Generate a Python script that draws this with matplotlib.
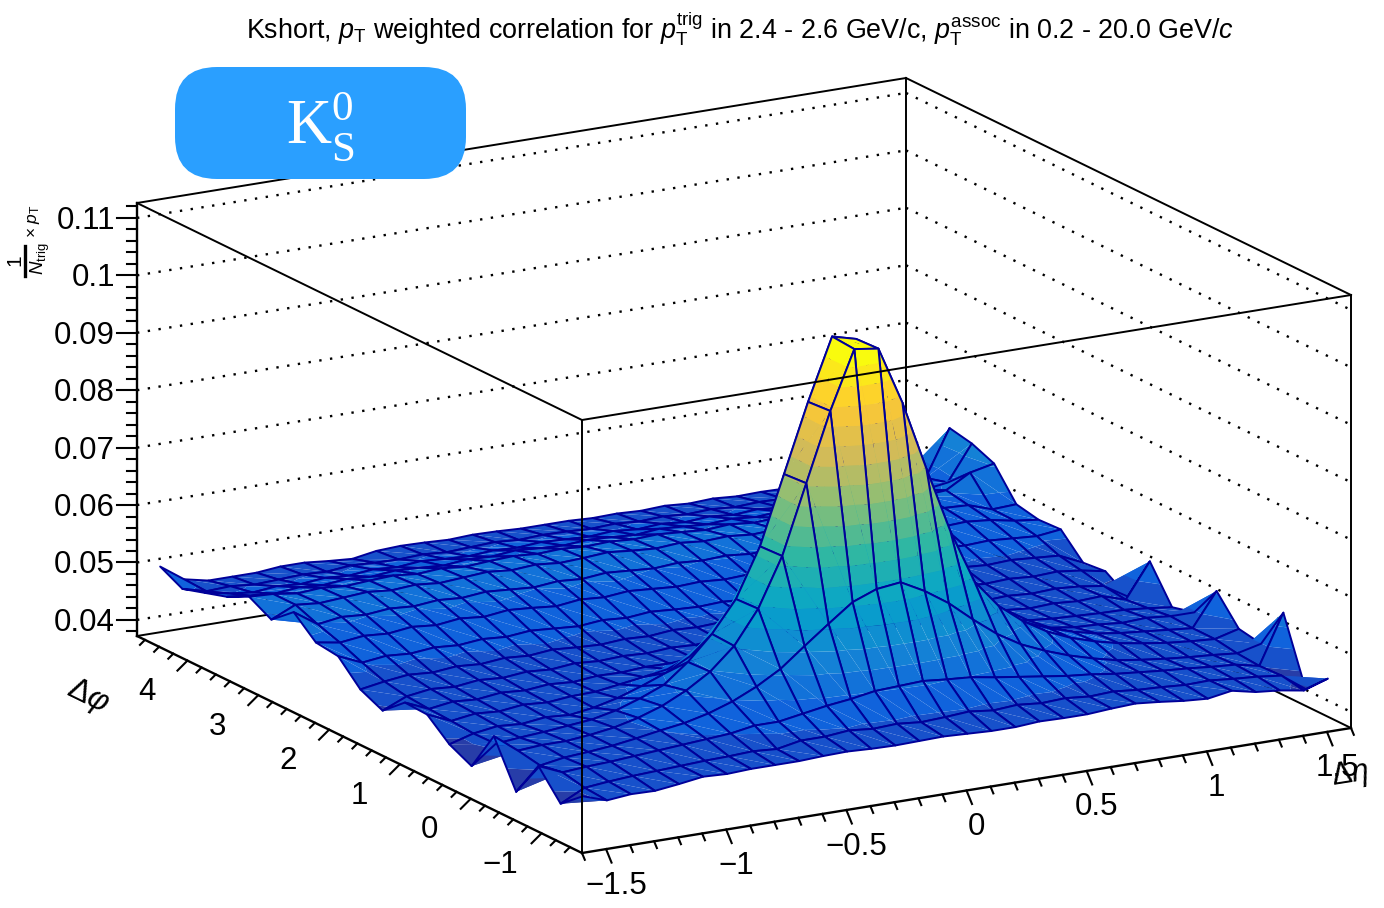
import numpy as np
import matplotlib
matplotlib.use('Agg')
import matplotlib.pyplot as plt
from matplotlib.collections import PolyCollection
from matplotlib.colors import LinearSegmentedColormap
from matplotlib.patches import FancyBboxPatch

plt.rcParams['font.family'] = ['Liberation Sans', 'DejaVu Sans']
plt.rcParams['mathtext.fontset'] = 'custom'
plt.rcParams['mathtext.rm'] = 'Liberation Sans'
plt.rcParams['mathtext.it'] = 'Liberation Sans:italic'
plt.rcParams['mathtext.bf'] = 'Liberation Sans:bold'

# axis ranges of the histogram
eta_range = [-1.6, 1.6]
phi_range = [-np.pi / 2, 3 * np.pi / 2]
z_range = [0.0372, 0.1126]
n_eta = 32
n_phi = 20

z_ticks = [0.04, 0.05, 0.06, 0.07, 0.08, 0.09, 0.1, 0.11]
z_labels = ['0.04', '0.05', '0.06', '0.07', '0.08', '0.09', '0.1', '0.11']
eta_ticks = [-1.5, -1, -0.5, 0, 0.5, 1, 1.5]
eta_labels = ['\u22121.5', '\u22121', '\u22120.5', '0', '0.5', '1', '1.5']
phi_ticks = [-1, 0, 1, 2, 3, 4]
phi_labels = ['\u22121', '0', '1', '2', '3', '4']

# bin contents x 1e4, one row per dphi bin (lowest dphi first), 32 deta bins in a row
z_rows = [
    [458, 444, 448, 447, 452, 458, 456, 458, 458, 458, 460, 461, 459, 458, 459, 460,
     458, 456, 456, 459, 458, 458, 461, 463, 459, 454, 451, 458, 449, 445, 438, 452],
    [426, 447, 451, 454, 456, 458, 460, 461, 463, 460, 468, 468, 472, 468, 470, 466,
     468, 471, 466, 469, 465, 467, 463, 465, 461, 459, 456, 457, 453, 450, 445, 415],
    [473, 455, 458, 460, 463, 466, 469, 472, 475, 482, 482, 489, 496, 501, 508, 510,
     512, 508, 505, 498, 492, 486, 480, 476, 470, 466, 462, 459, 455, 452, 443, 529],
    [409, 448, 455, 458, 462, 468, 475, 481, 491, 505, 524, 548, 581, 613, 644, 660,
     665, 643, 615, 580, 548, 523, 505, 490, 478, 468, 462, 457, 453, 450, 446, 456],
    [487, 455, 458, 458, 462, 468, 478, 492, 512, 538, 576, 634, 719, 839, 958, 1059,
     1053, 952, 830, 714, 620, 571, 538, 513, 495, 482, 472, 465, 459, 455, 452, 463],
    [416, 448, 452, 455, 459, 463, 472, 486, 503, 536, 578, 632, 717, 836, 955, 1062,
     1051, 948, 829, 712, 626, 574, 535, 510, 493, 480, 470, 464, 460, 456, 452, 510],
    [435, 447, 453, 450, 455, 452, 458, 468, 482, 498, 520, 545, 578, 610, 640, 658,
     662, 640, 612, 580, 548, 522, 503, 488, 477, 468, 462, 460, 456, 458, 454, 454],
    [468, 450, 456, 453, 458, 455, 459, 460, 466, 472, 479, 486, 492, 497, 505, 510,
     512, 506, 500, 496, 489, 483, 478, 473, 468, 462, 458, 456, 454, 453, 449, 444],
    [470, 452, 458, 455, 460, 457, 461, 458, 462, 461, 464, 463, 466, 464, 467, 468,
     469, 466, 465, 467, 463, 465, 461, 463, 459, 461, 457, 459, 456, 458, 445, 505],
    [437, 455, 461, 458, 463, 460, 464, 461, 465, 462, 464, 462, 465, 463, 466, 464,
     465, 463, 466, 462, 464, 461, 463, 459, 462, 458, 460, 457, 459, 456, 450, 425],
    [455, 462, 467, 464, 468, 465, 469, 466, 470, 467, 465, 468, 466, 470, 468, 470,
     472, 468, 470, 467, 465, 468, 464, 466, 463, 465, 462, 464, 461, 463, 458, 450],
    [494, 476, 481, 478, 482, 479, 483, 480, 484, 481, 478, 482, 479, 483, 480, 478,
     480, 477, 479, 475, 477, 473, 475, 471, 473, 470, 472, 469, 471, 468, 465, 446],
    [499, 492, 497, 494, 499, 495, 500, 496, 501, 498, 494, 499, 496, 500, 497, 494,
     496, 493, 495, 491, 493, 489, 491, 487, 489, 485, 487, 484, 486, 483, 480, 485],
    [533, 505, 511, 508, 512, 509, 513, 510, 514, 511, 508, 512, 509, 513, 510, 507,
     510, 507, 509, 505, 507, 503, 505, 501, 503, 499, 501, 498, 500, 496, 488, 483],
    [501, 520, 516, 519, 522, 518, 521, 517, 520, 523, 519, 522, 518, 520, 523, 519,
     516, 519, 515, 517, 513, 515, 511, 513, 509, 511, 507, 509, 505, 503, 489, 491],
    [522, 520, 514, 517, 513, 516, 518, 514, 517, 513, 516, 518, 515, 517, 514, 516,
     513, 515, 512, 509, 512, 508, 510, 507, 509, 505, 508, 504, 507, 510, 534, 543],
    [503, 498, 495, 499, 496, 500, 497, 501, 499, 496, 500, 498, 502, 499, 497, 500,
     498, 495, 499, 496, 493, 496, 492, 495, 491, 494, 490, 493, 496, 492, 498, 559],
    [491, 483, 478, 482, 479, 483, 480, 484, 481, 485, 482, 480, 483, 481, 484, 482,
     480, 483, 479, 482, 478, 481, 477, 480, 476, 479, 477, 481, 484, 484, 487, 567],
    [479, 468, 470, 466, 468, 470, 468, 472, 470, 469, 471, 468, 470, 472, 469, 471,
     470, 468, 470, 467, 469, 466, 468, 465, 467, 466, 468, 470, 470, 471, 472, 463],
    [499, 470, 461, 461, 461, 465, 465, 461, 458, 465, 467, 466, 464, 466, 465, 463,
     463, 463, 461, 462, 460, 462, 459, 461, 458, 459, 458, 460, 461, 462, 465, 460],
]

# ROOT kBird palette
bird_r = [0.2082, 0.0592, 0.0780, 0.0232, 0.1802, 0.5301, 0.8186, 0.9956, 0.9764]
bird_g = [0.1664, 0.3599, 0.5041, 0.6419, 0.7178, 0.7492, 0.7328, 0.7862, 0.9832]
bird_b = [0.5293, 0.8684, 0.8385, 0.7914, 0.6425, 0.4662, 0.3499, 0.1968, 0.0539]
bird = LinearSegmentedColormap.from_list('bird', list(zip(bird_r, bird_g, bird_b)))

z_grid = np.array(z_rows) * 1e-4
eta_edges = np.linspace(eta_range[0], eta_range[1], n_eta + 1)
phi_edges = np.linspace(phi_range[0], phi_range[1], n_phi + 1)
eta_nodes = 0.5 * (eta_edges[:-1] + eta_edges[1:])
phi_nodes = 0.5 * (phi_edges[:-1] + phi_edges[1:])

# box corners on the canvas, the view is a parallel projection
front = np.array([582.0, 853.0])
right = np.array([1351.0, 728.0])
left = np.array([137.0, 636.0])
box_height = 433.0


def project(eta, phi, z):
    fe = (eta - eta_range[0]) / (eta_range[1] - eta_range[0])
    fp = (phi - phi_range[0]) / (phi_range[1] - phi_range[0])
    fz = (z - z_range[0]) / (z_range[1] - z_range[0])
    x = front[0] + fe * (right[0] - front[0]) + fp * (left[0] - front[0])
    y = front[1] + fe * (right[1] - front[1]) + fp * (left[1] - front[1]) - fz * box_height
    return x, y


def clip_band(tri, lo, hi):
    # keep the part of a triangle (x, y, z) that lies between two z levels
    poly = list(tri)
    for level, sign in [(lo, 1), (hi, -1)]:
        out = []
        for i in range(len(poly)):
            a = poly[i]
            b = poly[(i + 1) % len(poly)]
            da = sign * (a[2] - level)
            db = sign * (b[2] - level)
            if da >= 0:
                out.append(a)
            if da * db < 0:
                t = da / (da - db)
                out.append(tuple(a[n] + t * (b[n] - a[n]) for n in range(3)))
        poly = out
        if not poly:
            return []
    return poly


fig = plt.figure(figsize=(13.84, 9.08), dpi=100)
ax = fig.add_axes([0, 0, 1, 1])
ax.set_xlim(0, 1384)
ax.set_ylim(908, 0)
ax.axis('off')

BLACK_LW = 1.4
DOTS = (0, (1.0, 3.6))
eta0, eta1 = eta_range
phi0, phi1 = phi_range
z0, z1 = z_range


def box_line(p, q, zorder, **kw):
    xa, ya = project(*p)
    xb, yb = project(*q)
    kw.setdefault('color', 'black')
    kw.setdefault('lw', BLACK_LW)
    ax.plot([xa, xb], [ya, yb], zorder=zorder, solid_capstyle='projecting', **kw)


# back walls and their dotted grid
for z in z_ticks:
    box_line((eta0, phi1, z), (eta1, phi1, z), 1, ls=DOTS, lw=1.7)
    box_line((eta1, phi1, z), (eta1, phi0, z), 1, ls=DOTS, lw=1.7)
box_line((eta0, phi1, z0), (eta1, phi1, z0), 1)
box_line((eta1, phi1, z0), (eta1, phi0, z0), 1)
box_line((eta0, phi1, z1), (eta1, phi1, z1), 1)
box_line((eta1, phi1, z1), (eta1, phi0, z1), 1)
box_line((eta1, phi1, z0), (eta1, phi1, z1), 1)
box_line((eta1, phi0, z0), (eta1, phi0, z1), 1)
box_line((eta0, phi1, z0), (eta0, phi1, z1), 1)

# the surface, split in triangles and colour bands, far cells first
n_levels = 20
levels = np.linspace(z_grid.min(), z_grid.max(), n_levels + 1)
band_colors = [bird((i + 1) / n_levels) for i in range(n_levels)]
polys, faces, edges, widths = [], [], [], []
for k in range(n_phi - 2, -1, -1):
    for j in range(n_eta - 2, -1, -1):
        nodes = {}
        for dj, dk in [(0, 0), (1, 0), (0, 1), (1, 1)]:
            x, y = project(eta_nodes[j + dj], phi_nodes[k + dk], z_grid[k + dk, j + dj])
            nodes[dj, dk] = (x, y, z_grid[k + dk, j + dj])
        for tri in ([nodes[0, 1], nodes[1, 1], nodes[1, 0]], [nodes[0, 1], nodes[0, 0], nodes[1, 0]]):
            for b in range(n_levels):
                part = clip_band(tri, levels[b], levels[b + 1])
                if len(part) >= 3:
                    polys.append([(v[0], v[1]) for v in part])
                    faces.append(band_colors[b])
                    edges.append((0, 0, 0, 0))
                    widths.append(0)
        polys.append([nodes[0, 0][:2], nodes[1, 0][:2], nodes[1, 1][:2], nodes[0, 1][:2]])
        faces.append((0, 0, 0, 0))
        edges.append((0, 0, 0.6, 1))
        widths.append(1.4)
ax.add_collection(PolyCollection(polys, facecolors=faces, edgecolors=edges, linewidths=widths,
                                 antialiaseds=True, joinstyle='round', zorder=2))

# front edges of the box go over the surface
box_line((eta0, phi0, z0), (eta0, phi0, z1), 3)
box_line((eta0, phi0, z1), (eta1, phi0, z1), 3)
box_line((eta0, phi0, z1), (eta0, phi1, z1), 3)
box_line((eta0, phi0, z0), (eta1, phi0, z0), 3, lw=1.7)
box_line((eta0, phi0, z0), (eta0, phi1, z0), 3, lw=1.7)
box_line((eta0, phi1, z0), (eta0, phi1, z1), 3, lw=1.7)

# z axis ticks on the left edge
lx, ly0 = project(eta0, phi1, z0)
for z in np.arange(0.038, z1, 0.002):
    _, yt = project(eta0, phi1, z)
    major = min(abs(z - t) for t in z_ticks) < 1e-6
    ax.plot([lx - (20 if major else 10), lx], [yt, yt], color='black', lw=1.5, zorder=3)
for z, lab in zip(z_ticks, z_labels):
    _, yt = project(eta0, phi1, z)
    ax.text(lx - 22, yt + 3, lab, ha='right', va='center', fontsize=22.5, zorder=5)

# deta ticks
for e in np.arange(-1.6, 1.61, 0.1):
    xt, yt = project(e, phi0, z0)
    major = min(abs(e - t) for t in eta_ticks) < 1e-6
    dx, dy = (5.5, 13.5) if major else (2.8, 6.8)
    ax.plot([xt, xt + dx], [yt, yt + dy], color='black', lw=1.5, zorder=3)
for e, lab in zip(eta_ticks, eta_labels):
    xt, yt = project(e, phi0, z0)
    ax.text(xt + 10, yt + 36.5, lab, ha='center', va='center', fontsize=22.5, zorder=5)

# dphi ticks
for p in np.arange(-1.4, 4.7, 0.2):
    xt, yt = project(eta0, p, z0)
    major = min(abs(p - t) for t in phi_ticks) < 1e-6
    dx, dy = (-10, 10) if major else (-5, 5)
    ax.plot([xt, xt + dx], [yt, yt + dy], color='black', lw=1.5, zorder=3)
for p, lab in zip(phi_ticks, phi_labels):
    xt, yt = project(eta0, p, z0)
    ax.text(xt - 41, yt + 31.5, lab, ha='center', va='center', fontsize=22.5, zorder=5)

# axis titles
ax.text(88, 697, r'$\Delta\varphi$', rotation=-26, rotation_mode='anchor', ha='center', va='center',
        fontsize=23, zorder=5)
ax.text(1350, 775, r'$\Delta\eta$', rotation=9, rotation_mode='anchor', ha='center', va='center',
        fontsize=22, zorder=5)
ax.text(15, 260, '1', rotation=90, ha='center', va='center', fontsize=15, zorder=5)
ax.plot([25, 25], [246, 276], color='black', lw=2.4, zorder=5)
ax.text(40, 259, r'$N_{\mathrm{trig}}$', rotation=90, ha='center', va='center', fontsize=13.5, zorder=5)
ax.text(33, 221, r'$\times\ p_{\mathrm{T}}$', rotation=90, ha='center', va='center', fontsize=12.5, zorder=5)

# title
ax.text(740, 29, r'Kshort, $p_{\mathrm{T}}$ weighted correlation for $p_{\mathrm{T}}^{\mathrm{trig}}$'
        r' in 2.4 - 2.6 GeV/c, $p_{\mathrm{T}}^{\mathrm{assoc}}$ in 0.2 - 20.0 GeV/$c$',
        ha='center', va='center', fontsize=19.4, zorder=5)

# particle badge
badge = FancyBboxPatch((175 + 42, 67 + 42), 291 - 84, 112 - 84, boxstyle='round,pad=42,rounding_size=42',
                       facecolor='#2a9fff', edgecolor='none', zorder=6)
ax.add_patch(badge)
ax.text(286, 128, 'K', ha='left', va='center', color='white', fontsize=45, family='Liberation Serif', zorder=7)
ax.text(331, 110, '0', ha='left', va='center', color='white', fontsize=31, family='Liberation Serif', zorder=7)
ax.text(331, 151, 'S', ha='left', va='center', color='white', fontsize=31, family='Liberation Serif', zorder=7)

fig.savefig('out.png', dpi=100)
